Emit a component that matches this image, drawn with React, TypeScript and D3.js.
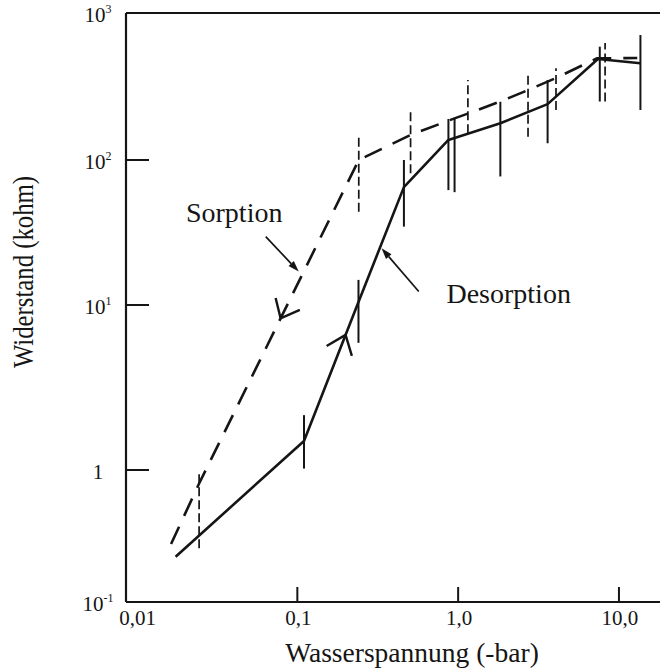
import React from "react";
import * as d3 from "d3";

// ---- data ----
const desorptionX = [0.0175, 0.11, 0.24, 0.46, 0.87, 1.83, 3.6, 7.4, 13.6];
const desorptionY = [0.22, 1.5, 10.5, 65, 137, 178, 240, 487, 455];

const sorptionX = [0.0164, 0.0245, 0.241, 0.506, 0.95, 1.15, 1.83, 2.72, 4.06, 7.3, 13.0];
const sorptionY = [0.275, 0.79, 100, 148, 192, 207, 250, 299, 361, 492, 494];

const desorptionBarX = [0.11, 0.24, 0.46, 0.87, 0.95, 1.83, 3.6, 7.6, 13.6];
const desorptionBarLow = [1.02, 5.9, 34.7, 62, 60, 77, 130, 250, 219];
const desorptionBarHigh = [2.15, 14.9, 100, 190, 192, 249, 350, 590, 708];

const sorptionBarX = [0.0245, 0.241, 0.506, 1.15, 2.72, 4.06, 8.2];
const sorptionBarLow = [0.255, 44, 81, 152, 144, 219, 250];
const sorptionBarHigh = [0.98, 148, 219, 350, 378, 421, 625];

const xTickValues = [0.01, 0.1, 1, 10];
const xTickLabels = ["0,01", "0,1", "1,0", "10,0"];
const yTickValues = [0.1, 1, 10, 100, 1000];
const yTickBases = ["10", "1", "10", "10", "10"];
const yTickExps = ["-1", "", "1", "2", "3"];

// annotations in data coordinates
const sorptionLabel = { text: "Sorption", x: 0.0203, y: 37.3 };
const desorptionLabel = { text: "Desorption", x: 0.846, y: 10.3 };
const sorptionPointer = { from: [0.0636, 29.6], to: [0.102, 17.0] };
const desorptionPointer = { from: [0.569, 12.4], to: [0.334, 24.6] };
const sorptionChevronX = 0.0787; // arrow pointing down the curve
const desorptionChevronX = 0.1995; // arrow pointing up the curve

const FONT = "'Liberation Serif', 'Times New Roman', Times, serif";
const INK = "#151515";

export default function App() {
  const left = 126, right = 660, top = 13, bottom = 602;
  const x = d3.scaleLog().domain([0.0086, 18]).range([left, right]);
  const yLin = d3.scaleLinear().domain([-1, 0, 1, 2, 3]).range([bottom, 470, 305, 160, top]);
  const y = (v: number) => yLin(Math.log10(v));

  const des = desorptionX.map((d, i) => [d, desorptionY[i]] as [number, number]);
  const sor = sorptionX.map((d, i) => [d, sorptionY[i]] as [number, number]);
  const line = d3.line<[number, number]>().x((d) => x(d[0])).y((d) => y(d[1]));

  // chevron on a polyline at data x, pointing in direction dir (+1 forward, -1 backward)
  const chevron = (pts: [number, number][], xv: number, dir: number, len: number, ang: number) => {
    const px = x(xv);
    let i = 0;
    while (i < pts.length - 2 && x(pts[i + 1][0]) < px) i++;
    const ax = x(pts[i][0]), ay = y(pts[i][1]);
    const bx = x(pts[i + 1][0]), by = y(pts[i + 1][1]);
    const t = (px - ax) / (bx - ax);
    const py = ay + t * (by - ay);
    let dx = (bx - ax) * dir, dy = (by - ay) * dir;
    const n = Math.hypot(dx, dy);
    dx /= n; dy /= n;
    // back direction
    const bxd = -dx, byd = -dy;
    const rot = (a: number) => [
      px + len * (bxd * Math.cos(a) - byd * Math.sin(a)),
      py + len * (bxd * Math.sin(a) + byd * Math.cos(a)),
    ];
    const p1 = rot(ang), p2 = rot(-ang);
    return `M${p1[0]},${p1[1]}L${px},${py}L${p2[0]},${p2[1]}`;
  };

  const pointer = (p: { from: number[]; to: number[] }) => {
    const x1 = x(p.from[0]), y1 = y(p.from[1]);
    const x2 = x(p.to[0]), y2 = y(p.to[1]);
    const dx = x2 - x1, dy = y2 - y1;
    const n = Math.hypot(dx, dy);
    const ux = dx / n, uy = dy / n;
    const hl = 11, hw = 3.6;
    const bx = x2 - ux * hl, by = y2 - uy * hl;
    return {
      line: `M${x1},${y1}L${bx},${by}`,
      head: `M${x2},${y2}L${bx - uy * hw},${by + ux * hw}L${bx + uy * hw},${by - ux * hw}Z`,
    };
  };
  const sp = pointer(sorptionPointer);
  const dp = pointer(desorptionPointer);

  return (
    <svg width={662} height={672} style={{ position: "absolute", left: 0, top: 0, background: "#fff" }}>
      <rect width={662} height={672} fill="#fff" />
      {/* frame */}
      <g stroke={INK} strokeWidth={2.2} fill="none">
        <line x1={left} x2={left} y1={top} y2={bottom} />
        <line x1={left} x2={right} y1={bottom} y2={bottom} />
        <line x1={left} x2={right} y1={top} y2={top} />
      </g>
      {/* y ticks */}
      {yTickValues.map((v, i) => (
        <g key={"yt" + i}>
          {i > 0 && i < yTickValues.length - 1 && (
            <line x1={left} x2={left + 23} y1={y(v)} y2={y(v)} stroke={INK} strokeWidth={2} />
          )}
          <text x={98} y={y(v) + 9} textAnchor="middle" fontFamily={FONT} fontSize={21} fill={INK}>
            {yTickBases[i]}
            {yTickExps[i] && (
              <tspan fontSize={12} dy={-9}>
                {yTickExps[i]}
              </tspan>
            )}
          </text>
        </g>
      ))}
      {/* x ticks */}
      {xTickValues.map((v, i) => (
        <g key={"xt" + i}>
          {i > 0 && <line x1={x(v)} x2={x(v)} y1={bottom} y2={bottom - 15} stroke={INK} strokeWidth={2} />}
          <text x={x(v) + 1} y={625} textAnchor="middle" fontFamily={FONT} fontSize={21} fill={INK}>
            {xTickLabels[i]}
          </text>
        </g>
      ))}
      {/* axis titles */}
      <text x={412} y={662} textAnchor="middle" fontFamily={FONT} fontSize={27.5} fill={INK}>
        Wasserspannung (-bar)
      </text>
      <text
        transform={`translate(33,368) rotate(-90)`}
        textAnchor="start"
        fontFamily={FONT}
        fontSize={30}
        textLength={192}
        lengthAdjust="spacingAndGlyphs"
        fill={INK}
      >
        Widerstand (kohm)
      </text>

      {/* error bars */}
      {desorptionBarX.map((v, i) => (
        <line key={"db" + i} x1={x(v)} x2={x(v)} y1={y(desorptionBarLow[i])} y2={y(desorptionBarHigh[i])} stroke={INK} strokeWidth={2} />
      ))}
      {sorptionBarX.map((v, i) => (
        <line key={"sb" + i} x1={x(v)} x2={x(v)} y1={y(sorptionBarLow[i])} y2={y(sorptionBarHigh[i])} stroke={INK} strokeWidth={1.7} strokeDasharray="9 4" />
      ))}

      {/* curves */}
      <path d={line(des) || ""} fill="none" stroke={INK} strokeWidth={2.6} strokeLinejoin="round" />
      <path d={line(sor) || ""} fill="none" stroke={INK} strokeWidth={2.6} strokeDasharray="19 12" />

      {/* direction chevrons */}
      <path d={chevron(sor, sorptionChevronX, -1, 21, (40 * Math.PI) / 180)} fill="none" stroke={INK} strokeWidth={2.4} />
      <path d={chevron(des, desorptionChevronX, 1, 22, (38 * Math.PI) / 180)} fill="none" stroke={INK} strokeWidth={2.4} />

      {/* pointers */}
      <path d={sp.line} stroke={INK} strokeWidth={1.7} fill="none" />
      <path d={sp.head} fill={INK} />
      <path d={dp.line} stroke={INK} strokeWidth={1.7} fill="none" />
      <path d={dp.head} fill={INK} />

      {/* labels */}
      <text x={x(sorptionLabel.x)} y={y(sorptionLabel.y)} fontFamily={FONT} fontSize={28} fill={INK}>
        {sorptionLabel.text}
      </text>
      <text x={x(desorptionLabel.x)} y={y(desorptionLabel.y)} fontFamily={FONT} fontSize={28} fill={INK}>
        {desorptionLabel.text}
      </text>
    </svg>
  );
}
